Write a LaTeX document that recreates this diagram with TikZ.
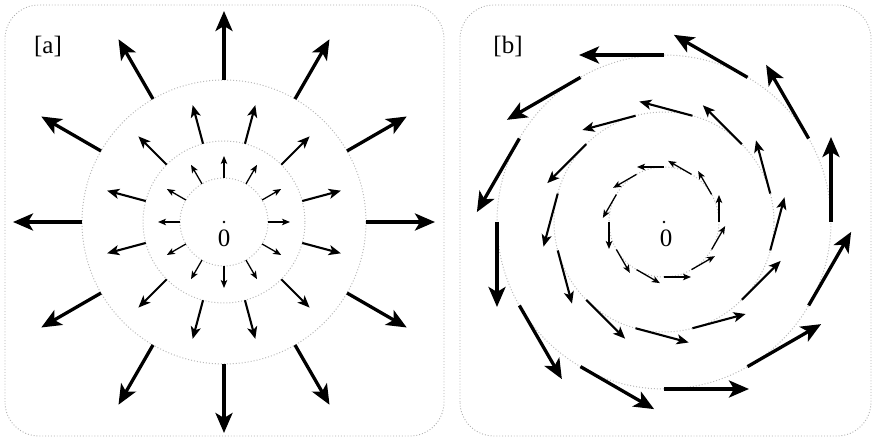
\documentclass[tikz,border=0pt]{standalone}
\usepackage{fontspec}
\setmainfont{Liberation Serif}
\usetikzlibrary{arrows.meta}

\begin{document}
\begin{tikzpicture}[
    x=1pt, y=1pt,
    every node/.style={font=\fontsize{25}{29}\selectfont},
    panel/.style={draw=gray!65, dotted, line width=0.9pt, rounded corners=34pt},
    ring/.style={draw=gray!55, dotted, line width=1pt},
    smallarrow/.style={-{Stealth[length=8pt, width=6.5pt, inset=2pt]}, line width=1.3pt},
    midarrow/.style={-{Stealth[length=12pt, width=10pt, inset=3pt]}, line width=2.1pt},
    bigarrow/.style={-{Stealth[length=20pt, width=17pt, inset=5pt]}, line width=3.3pt},
    origin/.style={circle, fill=black, inner sep=0pt, minimum size=2.8pt}
]
\useasboundingbox (0,0) rectangle (873,438);

% [a] radial field
\draw[panel] (5,2) rectangle (444,433);
\node (tagA) at (48,391) {[a]};
\coordinate (centerA) at (224,216);
\node[origin] (dotA) at (centerA) {};
\node (zeroA) at (224,200) {0};
\begin{scope}[shift={(centerA)}]
\foreach \r in {44,81,142}
    \draw[ring] (0,0) circle (\r pt);
\foreach \t in {0,30,...,330} {
    \draw[smallarrow] (\t:44) -- (\t:66);
    \draw[midarrow] (\t+15:81) -- (\t+15:121);
    \draw[bigarrow] (\t:142) -- (\t:211);
}
\end{scope}

% [b] rotational field
\draw[panel] (460,2) rectangle (871,433);
\node (tagB) at (508,391) {[b]};
\coordinate (centerB) at (664,216);
\node[origin] (dotB) at (centerB) {};
\node (zeroB) at (666,200) {0};
\begin{scope}[shift={(centerB)}]
\foreach \r in {55,110,167}
    \draw[ring] (0,0) circle (\r pt);
\foreach \t in {0,30,...,330} {
    \draw[smallarrow] (\t:55) -- ++(\t+90:27);
    \draw[midarrow] (\t+15:110) -- ++(\t+105:55);
    \draw[bigarrow] (\t:167) -- ++(\t+90:85);
}
\end{scope}
\end{tikzpicture}
\end{document}
